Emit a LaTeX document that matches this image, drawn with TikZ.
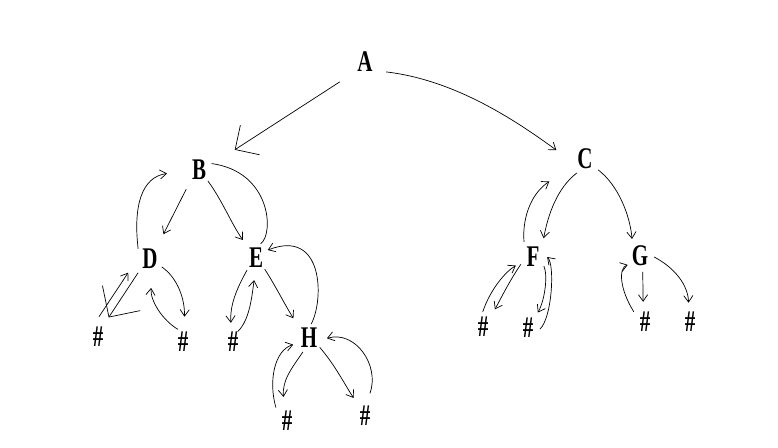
\documentclass[tikz,border=0pt]{standalone}
\usepackage{fontspec}
\usepackage{tikz}
\usetikzlibrary{arrows.meta}
\newfontfamily\handfont[FakeStretch=0.7]{Liberation Serif}
\definecolor{ink}{HTML}{000000}
\tikzset{
  every node/.style={font=\handfont\bfseries\fontsize{30}{30}\selectfont,text=ink},
  vtx/.style={circle,minimum size=28pt,inner sep=0pt},
  nil/.style={circle,minimum size=22pt,inner sep=0pt},
  walk/.style={-{Straight Barb[angle=70:8pt]},line width=0.7pt,draw=ink},
  bigwalk/.style={walk,-{Straight Barb[angle=90:25pt]}},
  plain/.style={line width=0.7pt,draw=ink},
}

\begin{document}
\begin{tikzpicture}[x=1pt,y=-1pt]
  \useasboundingbox (0,0) rectangle (778,447);
  % letters
  \node[vtx] (A) at (365,62) {A};
  \node[vtx] (B) at (199,170) {B};
  \node[vtx] (C) at (585,159) {C};
  \node[vtx] (D) at (150,259) {D};
  \node[vtx] (E) at (256,258) {E};
  \node[vtx] (F) at (533,257) {F};
  \node[vtx] (G) at (640,256) {G};
  \node[vtx] (H) at (309,338) {H};
  % empty children
  \node[nil] (d1) at (98,337) {\#};
  \node[nil] (d2) at (183,342) {\#};
  \node[nil] (e1) at (233,342) {\#};
  \node[nil] (h1) at (287,421) {\#};
  \node[nil] (h2) at (365,416) {\#};
  \node[nil] (f1) at (483,327) {\#};
  \node[nil] (f2) at (528,328) {\#};
  \node[nil] (g1) at (645,322) {\#};
  \node[nil] (g2) at (690,322) {\#};

  \draw[bigwalk,shorten <=18pt,shorten >=27pt] (A.-135) -- (B.23);
  \draw[walk,shorten <=10pt,shorten >=18pt] (A.-38) .. controls (455,80) and (515,120) .. (C.-173);
  % left subtree
  \draw[walk,shorten <=9pt,shorten >=14pt] (B.-128) -- (D.60);
  \draw[walk,shorten <=2pt,shorten >=18pt] (D.145) .. controls (133,205) and (142,177) .. (B.-176);
  \draw[walk,shorten >=8pt] (B.-51) .. controls (222,200) and (232,225) .. (E.126);
  \draw[plain,shorten <=1pt] (E.75) .. controls (274,235) and (272,172) .. (B.27);
  \draw[walk,-{Straight Barb[angle=90:32pt]},shorten <=4pt,shorten >=11pt] (D.-133) -- (d1.66);
  \draw[walk,shorten <=13pt,shorten >=14pt] (d1.123) -- (D.-172);
  \draw[walk,shorten >=14pt] (D.-34) .. controls (178,278) and (185,300) .. (d2.85);
  \draw[walk,shorten <=3pt,shorten >=15pt] (d2.102) .. controls (162,320) and (150,300) .. (D.-80);
  \draw[walk,shorten <=1pt,shorten >=8pt] (E.-127) .. controls (236,290) and (230,305) .. (e1.99);
  \draw[walk,shorten >=8pt] (e1.66) .. controls (250,320) and (252,295) .. (E.-93);
  \draw[walk,shorten >=11pt] (E.-52) .. controls (275,285) and (285,305) .. (H.133);
  \draw[walk] (H.81) .. controls (324,300) and (324,228) .. (E.34);
  \draw[walk,shorten <=1pt,shorten >=13pt] (H.-113) .. controls (292,368) and (282,380) .. (h1.102);
  \draw[walk,shorten <=7pt,shorten >=3pt] (h1.144) .. controls (268,380) and (275,350) .. (H.-156);
  \draw[walk,shorten >=10pt] (H.-41) .. controls (335,365) and (345,385) .. (h2.121);
  \draw[walk,shorten <=12pt,shorten >=4pt] (h2.85) .. controls (380,365) and (355,330) .. (H.-6);
  % right subtree
  \draw[walk,shorten <=2pt,shorten >=8pt] (C.-117) .. controls (557,188) and (548,215) .. (F.50);
  \draw[walk,shorten <=4pt,shorten >=28pt] (F.128) .. controls (522,215) and (533,192) .. (C.-149);
  \draw[walk,shorten <=3pt,shorten >=5pt] (C.-40) .. controls (618,185) and (630,215) .. (G.122);
  \draw[walk,shorten >=10pt] (F.-149) .. controls (510,280) and (500,300) .. (f1.51);
  \draw[walk,shorten <=4pt,shorten >=5pt] (f1.98) .. controls (490,290) and (505,272) .. (F.-155);
  \draw[walk,shorten >=7pt] (F.-40) .. controls (548,275) and (545,300) .. (f2.56);
  \draw[walk,shorten <=1pt] (f2.-9) .. controls (552,318) and (555,265) .. (F.0);
  \draw[walk,shorten <=2pt,shorten >=9pt] (G.-79) -- (g1.99);
  \draw[walk,shorten <=4pt,shorten >=1pt] (g1.143) .. controls (620,290) and (618,268) .. (G.-143);
  \draw[walk,shorten >=8pt] (G.-4) .. controls (675,268) and (688,285) .. (g2.96);
\end{tikzpicture}
\end{document}
